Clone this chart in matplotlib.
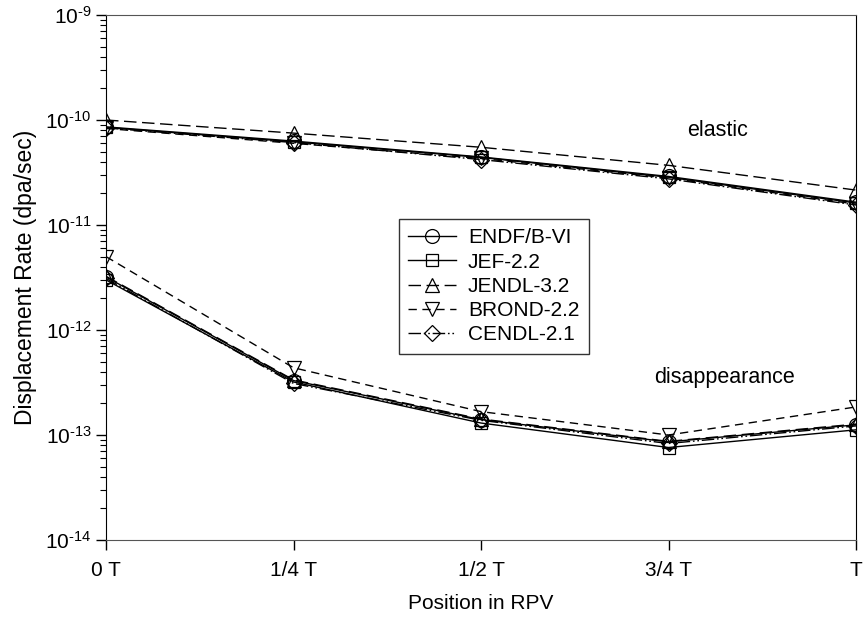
import numpy as np
import matplotlib
matplotlib.use("Agg")
import matplotlib.pyplot as plt
from matplotlib.ticker import LogLocator, FuncFormatter, NullFormatter

plt.rcParams['font.family'] = ['Liberation Sans', 'DejaVu Sans']
plt.rcParams['mathtext.fontset'] = 'custom'
plt.rcParams['mathtext.rm'] = 'Liberation Sans'
plt.rcParams['mathtext.it'] = 'Liberation Sans'
plt.rcParams['mathtext.bf'] = 'Liberation Sans'

positions = ["0 T", "1/4 T", "1/2 T", "3/4 T", "T"]
libraries = ["ENDF/B-VI", "JEF-2.2", "JENDL-3.2", "BROND-2.2", "CENDL-2.1"]

elastic_endf = [8.6e-11, 6.3e-11, 4.45e-11, 2.9e-11, 1.65e-11]
elastic_jef = [8.5e-11, 6.2e-11, 4.4e-11, 2.85e-11, 1.62e-11]
elastic_jendl = [1.0e-10, 7.5e-11, 5.5e-11, 3.7e-11, 2.15e-11]
elastic_brond = [8.3e-11, 6.0e-11, 4.3e-11, 2.8e-11, 1.58e-11]
elastic_cendl = [8.4e-11, 6.1e-11, 4.2e-11, 2.75e-11, 1.55e-11]

disap_endf = [3.2e-12, 3.3e-13, 1.4e-13, 8.6e-14, 1.25e-13]
disap_jef = [3.0e-12, 3.2e-13, 1.3e-13, 7.6e-14, 1.12e-13]
disap_jendl = [3.25e-12, 3.35e-13, 1.42e-13, 8.7e-14, 1.27e-13]
disap_brond = [5.0e-12, 4.37e-13, 1.67e-13, 1.0e-13, 1.85e-13]
disap_cendl = [3.1e-12, 3.1e-13, 1.38e-13, 8.3e-14, 1.22e-13]

elastic = [elastic_endf, elastic_jef, elastic_jendl, elastic_brond, elastic_cendl]
disap = [disap_endf, disap_jef, disap_jendl, disap_brond, disap_cendl]

markers = ['o', 's', '^', 'v', 'D']
msizes = [10, 8.5, 10, 10, 8]
styles = ['-', '-', (0, (9, 4)), (0, (6, 4)), (0, (9, 2, 1.2, 2, 1.2, 2))]

fig = plt.figure(figsize=(8.63, 6.22), dpi=100)
ax = fig.add_axes([106/863, 82/622, 750/863, 525/622])

x = np.arange(len(positions))
handles = []
for i, lib in enumerate(libraries):
    kw = dict(color='black', linestyle=styles[i], linewidth=1.0, marker=markers[i],
              markersize=msizes[i], markerfacecolor='none', markeredgecolor='black',
              markeredgewidth=0.9)
    h, = ax.plot(x, elastic[i], label=lib, **kw)
    ax.plot(x, disap[i], **kw)
    handles.append(h)

ax.set_yscale('log')
ax.set_ylim(1e-14, 1e-9)
ax.set_xlim(0, 4)
ax.set_xticks(x)
ax.set_xticklabels(positions)


def sci_label(v, pos):
    e = int(round(np.log10(v)))
    if e < 0:
        return r'$10^{\text{-}%d}$' % (-e)
    return r'$10^{%d}$' % e


ax.yaxis.set_major_locator(LogLocator(base=10, numticks=10))
ax.yaxis.set_minor_locator(LogLocator(base=10, subs=np.arange(2, 10), numticks=10))
ax.yaxis.set_major_formatter(FuncFormatter(sci_label))
ax.yaxis.set_minor_formatter(NullFormatter())

ax.tick_params(axis='both', which='major', direction='out', length=7, width=1.0,
               labelsize=15, colors='black')
ax.tick_params(axis='y', which='minor', direction='out', length=4, width=0.8)
ax.tick_params(axis='x', which='major', pad=8)
for s in ['top', 'bottom']:
    ax.spines[s].set_color('#555555')
for s in ['left', 'right']:
    ax.spines[s].set_color('black')

ax.set_xlabel("Position in RPV", fontsize=15, labelpad=10)
ax.set_ylabel("Displacement Rate (dpa/sec)", fontsize=16.5, labelpad=6)

ax.text(3.26, 8.0e-11, "elastic", fontsize=15.5, ha='center', va='center')
ax.text(3.30, 3.56e-13, "disappearance", fontsize=15.5, ha='center', va='center')

leg = ax.legend(handles=handles, loc='upper left', bbox_to_anchor=((399-106)/750, (540-219)/525),
                fontsize=15, frameon=True, fancybox=False, edgecolor='black',
                handlelength=2.3, handletextpad=0.55, labelspacing=0.25, borderpad=0.45,
                borderaxespad=0)
leg.get_frame().set_linewidth(1.0)

fig.savefig("out.png", dpi=100)
